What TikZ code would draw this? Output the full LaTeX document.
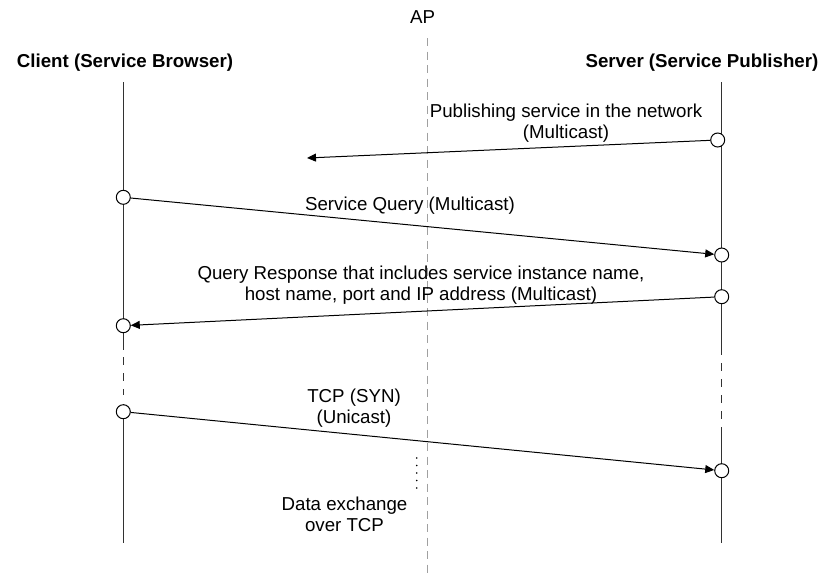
\documentclass[tikz,border=0pt]{standalone}
\usepackage{fontspec}
\setmainfont{Liberation Sans}
\usetikzlibrary{arrows.meta}
\definecolor{apgray}{RGB}{160,160,160}
\definecolor{lifegray}{RGB}{50,50,50}
\begin{document}
\begin{tikzpicture}[x=1pt,y=-1pt,
  % multi-line labels are placed by the baseline of their last line
  lbl/.style={font=\fontsize{18.7}{21}\selectfont, inner sep=0pt, align=center, anchor=base},
  hdr/.style={font=\fontsize{18.7}{21}\selectfont\bfseries, inner sep=0pt, anchor=base},
  life/.style={draw=lifegray, line width=1pt},
  lifedash/.style={life, dash pattern=on 7.5pt off 8.5pt},
  apline/.style={draw=apgray, line width=1pt, dash pattern=on 8pt off 5.5pt},
  port/.style={circle, draw=black, fill=white, line width=1pt, minimum size=14pt, inner sep=0pt},
  msg/.style={draw=black, line width=1pt, -{Triangle[length=9pt,width=8pt]}},
]
\useasboundingbox (0,0) rectangle (822,574);
\fill[white] (0,0) rectangle (822,574);

% access point: name and dashed centre line
\node[lbl] (ap) at (422.5,23.3) {AP};
\coordinate (aptop) at (427.3,38);
\coordinate (apbot) at (427.3,574);
\draw[apline] (aptop) -- (apbot);

% participants
\node[hdr] (client) at (125,67) {Client (Service Browser)};
\node[hdr] (server) at (702,67) {Server (Service Publisher)};

% client lifeline (solid, dashed gap, solid)
\coordinate (ca) at (123.3,82);
\coordinate (cb) at (123.3,350);
\coordinate (cb2) at (123.3,357);
\coordinate (cc2) at (123.3,395);
\coordinate (cc) at (123.3,404);
\coordinate (cd) at (123.3,543);
\draw[life] (ca) -- (cb);
\draw[lifedash] (cb2) -- (cc2);
\draw[life] (cc) -- (cd);

% server lifeline (solid, dashed gap, solid)
\coordinate (sa) at (721.7,82);
\coordinate (sb) at (721.7,355);
\coordinate (sb2) at (721.7,363);
\coordinate (sc2) at (721.7,420);
\coordinate (sc) at (721.7,427);
\coordinate (sd) at (721.7,543);
\draw[life] (sa) -- (sb);
\draw[lifedash] (sb2) -- (sc2);
\draw[life] (sc) -- (sd);

% message end points
\node[port] (s1) at (717.7,140) {};
\node[port] (c1) at (123.3,197.3) {};
\node[port] (s2) at (721.7,255) {};
\node[port] (s3) at (721.7,296.7) {};
\node[port] (c2) at (123.3,325.7) {};
\node[port] (c3) at (123.3,411.7) {};
\node[port] (s4) at (721.7,470.7) {};
\coordinate (pubend) at (307,158);

% messages
\draw[msg] (s1) -- (pubend);
\draw[msg] (c1) -- (s2);
\draw[msg] (s3) -- (c2);
\draw[msg] (c3) -- (s4);

% message labels
\node[lbl] (l1) at (566,138) {Publishing service in the network\\(Multicast)};
\node[lbl] (l2) at (410,210) {Service Query (Multicast)};
\node[lbl] (l3) at (421,300.7) {Query Response that includes service instance name,\\host name, port and IP address (Multicast)};
\node[lbl] (l4) at (354,423) {TCP (SYN)\\(Unicast)};
\node[lbl] (l5) at (344.5,531.7) {Data exchange\\over TCP};

% continuation dots
\coordinate (dtop) at (416.7,458);
\coordinate (dbot) at (416.7,490);
\draw[line width=1.8pt, line cap=round, dash pattern=on 0pt off 7.5pt] (dtop) -- (dbot);
\end{tikzpicture}
\end{document}
